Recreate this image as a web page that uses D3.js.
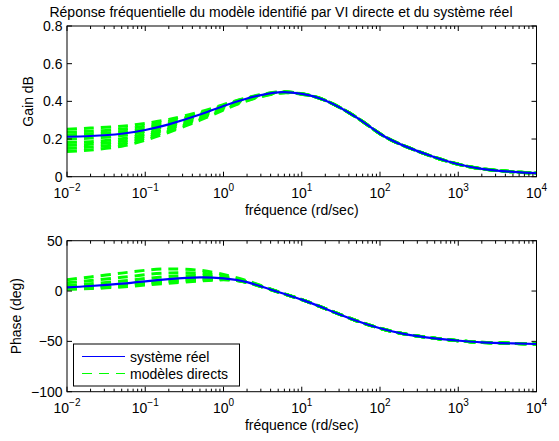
<!DOCTYPE html>
<html><head><meta charset="utf-8">
<script src="https://cdn.jsdelivr.net/npm/d3@7"></script>
<style>
body{margin:0;background:#fff}
text{font-family:"Liberation Sans",Arial,Helvetica,sans-serif;fill:#000}
</style>
</head><body>
<svg id="c" width="559" height="441"></svg>
<script>
// ---- data ----
const titleText = "Réponse fréquentielle du modèle identifié par VI directe et du système réel";
const xLabel = "fréquence (rd/sec)";
const freqs = [0.01,0.02,0.05,0.1,0.2,0.5,1,2,5,10,20,50,100,200,500,1000,2000,5000,10000];
const gainReal = [0.212,0.216,0.228,0.248,0.278,0.330,0.375,0.415,0.448,0.440,0.405,0.315,0.228,0.165,0.103,0.066,0.042,0.026,0.019];
const phaseReal = [3.7,5.0,7.3,9.6,11.8,13.6,12.6,8.8,-1.0,-8.5,-17.5,-29.5,-37.0,-42.5,-47.0,-49.3,-51.0,-52.0,-52.6];
const gainModels = [
  [0.252,0.258,0.268,0.283,0.304,0.344,0.383,0.419,0.450,0.440,0.405,0.315,0.228,0.165,0.103,0.066,0.042,0.026,0.019],
  [0.236,0.241,0.252,0.269,0.294,0.338,0.380,0.417,0.449,0.440,0.405,0.315,0.228,0.165,0.103,0.066,0.042,0.026,0.019],
  [0.222,0.227,0.238,0.257,0.285,0.334,0.377,0.416,0.448,0.440,0.405,0.315,0.228,0.165,0.103,0.066,0.042,0.026,0.019],
  [0.200,0.205,0.218,0.240,0.272,0.325,0.372,0.413,0.447,0.440,0.405,0.315,0.228,0.165,0.103,0.066,0.042,0.026,0.019],
  [0.181,0.186,0.202,0.226,0.261,0.318,0.367,0.410,0.446,0.439,0.405,0.315,0.228,0.165,0.103,0.066,0.042,0.026,0.019],
  [0.165,0.172,0.188,0.216,0.253,0.312,0.362,0.408,0.445,0.439,0.405,0.315,0.228,0.165,0.103,0.066,0.042,0.026,0.019],
  [0.150,0.157,0.175,0.205,0.244,0.306,0.358,0.405,0.444,0.438,0.405,0.315,0.228,0.165,0.103,0.066,0.042,0.026,0.019],
  [0.134,0.142,0.162,0.194,0.236,0.300,0.354,0.403,0.443,0.438,0.405,0.315,0.228,0.165,0.103,0.066,0.042,0.026,0.019]
];
const phaseModels = [
  [11.2,14.0,17.8,20.6,22.0,20.6,16.4,10.2,-0.7,-8.5,-17.5,-29.5,-37.0,-42.5,-47.0,-49.3,-51.0,-52.0,-52.6],
  [8.2,10.4,13.6,16.2,17.9,17.8,14.9,9.6,-0.8,-8.5,-17.5,-29.5,-37.0,-42.5,-47.0,-49.3,-51.0,-52.0,-52.6],
  [5.6,7.3,9.9,12.4,14.4,15.4,13.6,9.2,-0.9,-8.5,-17.5,-29.5,-37.0,-42.5,-47.0,-49.3,-51.0,-52.0,-52.6],
  [3.4,4.6,6.8,9.1,11.2,13.1,12.4,8.7,-1.0,-8.5,-17.5,-29.5,-37.0,-42.5,-47.0,-49.3,-51.0,-52.0,-52.6],
  [2.9,4.0,6.0,8.2,10.2,12.2,12.0,8.6,-1.0,-8.5,-17.5,-29.5,-37.0,-42.5,-47.0,-49.3,-51.0,-52.0,-52.6],
  [2.5,3.4,5.4,7.4,9.4,11.4,11.7,8.6,-1.0,-8.5,-17.5,-29.5,-37.0,-42.5,-47.0,-49.3,-51.0,-52.0,-52.6],
  [2.1,2.9,4.7,6.7,8.6,10.7,11.4,8.5,-1.0,-8.5,-17.5,-29.5,-37.0,-42.5,-47.0,-49.3,-51.0,-52.0,-52.6],
  [1.7,2.4,4.1,6.0,7.8,10.0,11.1,8.4,-1.0,-8.5,-17.5,-29.5,-37.0,-42.5,-47.0,-49.3,-51.0,-52.0,-52.6]
];
const gainTicks = [0,0.2,0.4,0.6,0.8];
const gainTickLabels = ["0","0.2","0.4","0.6","0.8"];
const phaseTicks = [-100,-50,0,50];
const phaseTickLabels = ["\u2212100","\u221250","0","50"];
const decadeExps = [-2,-1,0,1,2,3,4];
const legendLabels = ["système réel","modèles directs"];

// ---- drawing ----
const svg = d3.select("#c");
const left = 67, right = 536.5;
const x = d3.scaleLog().domain([1e-2,1e4]).range([left,right]);
const minorTicks = [];
for (let d=-2; d<4; d++) for (let k=2;k<10;k++) minorTicks.push(k*Math.pow(10,d));

svg.append("text").attr("x",281).attr("y",17.3).attr("text-anchor","middle")
  .style("font-size","14px").text(titleText);

function panel(id, top, bottom, yDomain, ticks, tickLabels, ylabel, ylabelX, real, models, withLegend){
  const y = d3.scaleLinear().domain(yDomain).range([bottom, top]);
  const g = svg.append("g");
  g.append("clipPath").attr("id","clip"+id).append("rect")
    .attr("x",left).attr("y",top).attr("width",right-left).attr("height",bottom-top);
  const line = d3.line().x((d,i)=>x(freqs[i])).y(d=>y(d)).curve(d3.curveNatural);
  const plot = g.append("g").attr("clip-path","url(#clip"+id+")");
  models.forEach(m=>{
    plot.append("path").attr("d",line(m)).attr("fill","none")
      .attr("stroke","#00ff00").attr("stroke-width",3).attr("stroke-dasharray","10,7");
  });
  plot.append("path").attr("d",line(real)).attr("fill","none")
    .attr("stroke","#0000ff").attr("stroke-width",2.2);

  // frame
  g.append("rect").attr("x",left).attr("y",top).attr("width",right-left).attr("height",bottom-top)
    .attr("fill","none").attr("stroke","#000").attr("stroke-width",1);
  // ticks
  const tk = g.append("g").attr("stroke","#000").attr("stroke-width",1);
  decadeExps.forEach(e=>{
    const xx = x(Math.pow(10,e));
    tk.append("line").attr("x1",xx).attr("x2",xx).attr("y1",bottom).attr("y2",bottom-5);
    tk.append("line").attr("x1",xx).attr("x2",xx).attr("y1",top).attr("y2",top+5);
  });
  minorTicks.forEach(v=>{
    const xx = x(v);
    tk.append("line").attr("x1",xx).attr("x2",xx).attr("y1",bottom).attr("y2",bottom-3);
    tk.append("line").attr("x1",xx).attr("x2",xx).attr("y1",top).attr("y2",top+3);
  });
  ticks.forEach((v,i)=>{
    const yy = y(v);
    tk.append("line").attr("x1",left).attr("x2",left+5).attr("y1",yy).attr("y2",yy);
    tk.append("line").attr("x1",right).attr("x2",right-5).attr("y1",yy).attr("y2",yy);
    g.append("text").attr("x",left-4.5).attr("y",yy+5).attr("text-anchor","end")
      .style("font-size","14px").text(tickLabels[i]);
  });
  decadeExps.forEach(e=>{
    const t = g.append("text").attr("x",x(Math.pow(10,e))).attr("y",bottom+21.5)
      .attr("text-anchor","middle").style("font-size","14px");
    t.append("tspan").text("10");
    t.append("tspan").attr("dy",-7).style("font-size","10px").text(e<0 ? "\u2212"+(-e) : String(e));
  });
  g.append("text").attr("x",(left+right)/2).attr("y",bottom+38.5).attr("text-anchor","middle")
    .style("font-size","14px").text(xLabel);
  g.append("text").attr("transform","translate("+ylabelX+","+((top+bottom)/2)+") rotate(-90)")
    .attr("text-anchor","middle").style("font-size","14px").text(ylabel);

  if (withLegend){
    const lg = g.append("g");
    lg.append("rect").attr("x",73.5).attr("y",344).attr("width",166).attr("height",42)
      .attr("fill","#fff").attr("stroke","#000").attr("stroke-width",1);
    lg.append("line").attr("x1",82).attr("x2",125).attr("y1",356.5).attr("y2",356.5)
      .attr("stroke","#0000ff").attr("stroke-width",1.2);
    lg.append("line").attr("x1",82).attr("x2",125).attr("y1",373.5).attr("y2",373.5)
      .attr("stroke","#00ff00").attr("stroke-width",1.2).attr("stroke-dasharray","10,7");
    lg.append("text").attr("x",130).attr("y",361.5).style("font-size","14px").text(legendLabels[0]);
    lg.append("text").attr("x",130).attr("y",378.5).style("font-size","14px").text(legendLabels[1]);
  }
}

panel("g", 26, 176.7, [0,0.8], gainTicks, gainTickLabels, "Gain dB", 33.3, gainReal, gainModels, false);
panel("p", 240.7, 391.7, [-100,50], phaseTicks, phaseTickLabels, "Phase (deg)", 20.5, phaseReal, phaseModels, true);
</script>
</body></html>
